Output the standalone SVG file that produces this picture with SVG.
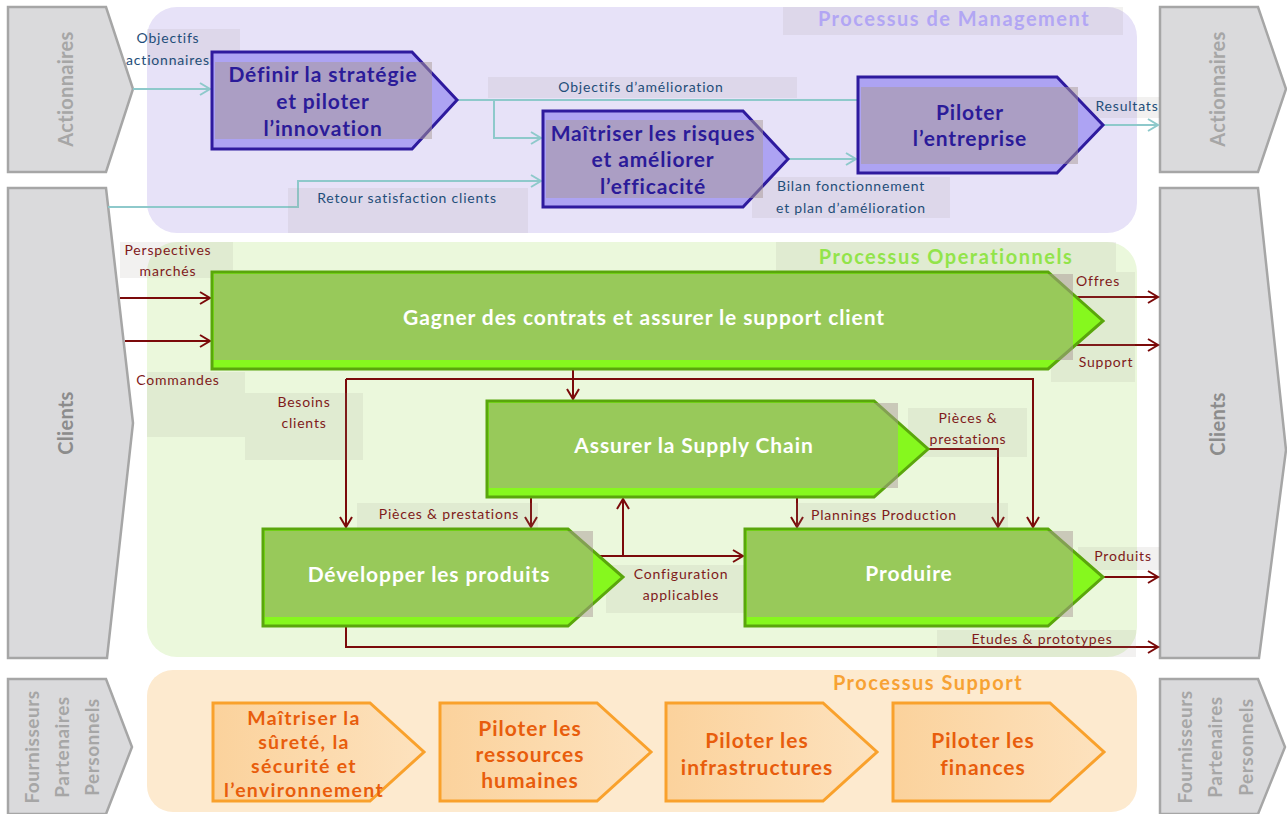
<svg xmlns="http://www.w3.org/2000/svg" width="1287" height="814" viewBox="0 0 1287 814">
<defs>
<style>
text{font-family:Lato,"Open Sans","Liberation Sans",sans-serif}
.side{fill:#DADADC;stroke:#A6A6A6;stroke-width:2.5}
.sidet{fill:#A6A6A6;font-weight:bold;font-size:20px;text-anchor:middle;letter-spacing:0.3px}
.sidet2{fill:#A6A6A6;font-weight:bold;font-size:19px;text-anchor:middle;letter-spacing:0.5px}
.pnode{fill:#ADA3F3;stroke:#2E1A9E;stroke-width:3}
.gnode{fill:#86F81E;stroke:#5AA60C;stroke-width:3}
.onode{fill:url(#og);stroke:#F9A12C;stroke-width:3}
.ov{fill:#AA9A96;opacity:.5}
.lb{fill:#9A8F88;opacity:.13}
.pt{fill:#2B1B99;font-weight:bold;font-size:21px;text-anchor:middle;letter-spacing:0.85px}
.gt{fill:#FFFFFF;font-weight:bold;font-size:21px;text-anchor:middle;letter-spacing:0.9px}
.ot{fill:#E85D0C;font-weight:bold;font-size:21px;text-anchor:middle;letter-spacing:1px}
.ot2{fill:#E85D0C;font-weight:bold;font-size:19.5px;text-anchor:middle;letter-spacing:1.3px}
.bl{fill:#1F4E79;font-size:14px;text-anchor:middle;letter-spacing:0.8px}
.rl{fill:#7F1A1A;font-size:14px;text-anchor:middle;letter-spacing:0.8px}
.tl{fill:none;stroke:#8EC9CB;stroke-width:2}
.rd{fill:none;stroke:#7B0A0A;stroke-width:2}
.title{font-weight:bold;font-size:20px;text-anchor:middle;letter-spacing:1.5px}
</style>
<linearGradient id="og" x1="0" y1="0" x2="1" y2="0">
<stop offset="0" stop-color="#FBD29C"/>
<stop offset="1" stop-color="#FDE2BE"/>
</linearGradient>
<marker id="at" markerUnits="userSpaceOnUse" markerWidth="14" markerHeight="14" refX="11" refY="7" orient="auto">
<path d="M1,1 L11,7 L1,13" fill="none" stroke="#8EC9CB" stroke-width="2"/>
</marker>
<marker id="ar" markerUnits="userSpaceOnUse" markerWidth="14" markerHeight="14" refX="11" refY="7" orient="auto">
<path d="M1,1 L11,7 L1,13" fill="none" stroke="#7B0A0A" stroke-width="2"/>
</marker>
</defs>

<g id="panels">
<rect x="147" y="7" width="990" height="226" rx="30" fill="#E7E2F8"/>
<rect x="147" y="242" width="990" height="415" rx="30" fill="#EBF8DC"/>
<rect x="147" y="670" width="990" height="142" rx="26" fill="#FDEACF"/>
</g>

<g id="side-left">
<polygon class="side" points="8,7 106,7 133,89 106,172 8,172"/>
<text class="sidet" transform="translate(73,89) rotate(-90)">Actionnaires</text>
<polygon class="side" points="8,188 106,188 133,423 107,658 8,658"/>
<text class="sidet" style="fill:#8C8C8C" transform="translate(73,423) rotate(-90)">Clients</text>
<polygon class="side" points="8,679 106,679 132,747 106,814 8,814"/>
<text class="sidet2" transform="translate(39,747) rotate(-90)">Fournisseurs</text>
<text class="sidet2" transform="translate(69,747) rotate(-90)">Partenaires</text>
<text class="sidet2" transform="translate(99,747) rotate(-90)">Personnels</text>
</g>

<g id="side-right">
<polygon class="side" points="1160,7 1258,7 1286,89 1258,172 1160,172"/>
<text class="sidet" transform="translate(1225,89) rotate(-90)">Actionnaires</text>
<polygon class="side" points="1160,188 1258,188 1286,450 1259,658 1160,658"/>
<text class="sidet" style="fill:#8C8C8C" transform="translate(1225,424) rotate(-90)">Clients</text>
<polygon class="side" points="1160,679 1258,679 1285,747 1258,814 1160,814"/>
<text class="sidet2" transform="translate(1192,747) rotate(-90)">Fournisseurs</text>
<text class="sidet2" transform="translate(1222,747) rotate(-90)">Partenaires</text>
<text class="sidet2" transform="translate(1253,747) rotate(-90)">Personnels</text>
</g>

<g id="connectors">
<path class="tl" d="M133,89 H210" marker-end="url(#at)"/>
<path class="tl" d="M457,100 H858 M494,100 V138 H541" marker-end="url(#at)"/>
<path class="tl" d="M108,207 H298 V181 H541" marker-end="url(#at)"/>
<path class="tl" d="M788,159 H856" marker-end="url(#at)"/>
<path class="tl" d="M1103,125 H1158" marker-end="url(#at)"/>

<path class="rd" d="M120,298 H210" marker-end="url(#ar)"/>
<path class="rd" d="M125,341 H210" marker-end="url(#ar)"/>
<path class="rd" d="M1075,297 H1158" marker-end="url(#ar)"/>
<path class="rd" d="M1075,345 H1158" marker-end="url(#ar)"/>
<path class="rd" d="M573,370 V399" marker-end="url(#ar)"/>
<path class="rd" d="M346,379 H1033 V527" marker-end="url(#ar)"/>
<path class="rd" d="M346,379 V527" marker-end="url(#ar)"/>
<path class="rd" d="M531,498 V527" marker-end="url(#ar)"/>
<path class="rd" d="M797,498 V527" marker-end="url(#ar)"/>
<path class="rd" d="M928,449 H998 V527" marker-end="url(#ar)"/>
<path class="rd" d="M599,556 H743" marker-end="url(#ar)"/>
<path class="rd" d="M623,556 V499" marker-end="url(#ar)"/>
<path class="rd" d="M1103,577 H1158" marker-end="url(#ar)"/>
<path class="rd" d="M346,627 V647 H1158" marker-end="url(#ar)"/>
</g>

<g id="label-bgs">
<rect class="lb" x="147" y="29" width="93" height="36"/>
<rect class="lb" x="488" y="77" width="309" height="21"/>
<rect class="lb" x="288" y="188" width="240" height="45"/>
<rect class="lb" x="752" y="177" width="198" height="41"/>
<rect class="lb" x="1078" y="97" width="82" height="21"/>
<rect class="lb" x="783" y="7" width="340" height="28"/>
<rect class="lb" x="120" y="242" width="113" height="36"/>
<rect class="lb" x="147" y="372" width="98" height="65"/>
<rect class="lb" x="245" y="393" width="118" height="67"/>
<rect class="lb" x="776" y="242" width="340" height="30"/>
<rect class="lb" x="1051" y="272" width="84" height="110"/>
<rect class="lb" x="357" y="503" width="181" height="26"/>
<rect class="lb" x="606" y="565" width="139" height="48"/>
<rect class="lb" x="796" y="503" width="212" height="26"/>
<rect class="lb" x="908" y="408" width="119" height="49"/>
<rect class="lb" x="1078" y="547" width="82" height="23"/>
<rect class="lb" x="937" y="630" width="199" height="27"/>
</g>

<g id="n-definir">
<polygon class="pnode" points="212,52 412,52 457,100 412,149 212,149"/>
<rect class="ov" x="215" y="62" width="217" height="77"/>
<text class="pt" x="323" y="82">Définir la stratégie</text>
<text class="pt" x="323" y="109">et piloter</text>
<text class="pt" x="323" y="136">l’innovation</text>
</g>
<g id="n-maitriser">
<polygon class="pnode" points="543,111 743,111 788,159 743,207 543,207"/>
<rect class="ov" x="546" y="120" width="217" height="78"/>
<text class="pt" x="653" y="141">Maîtriser les risques</text>
<text class="pt" x="653" y="167">et améliorer</text>
<text class="pt" x="653" y="194">l’efficacité</text>
</g>
<g id="n-piloter">
<polygon class="pnode" points="858,77 1057,77 1103,125 1057,173 858,173"/>
<rect class="ov" x="861" y="87" width="217" height="77"/>
<text class="pt" x="970" y="120">Piloter</text>
<text class="pt" x="970" y="146">l’entreprise</text>
</g>

<g id="n-gagner">
<polygon class="gnode" points="212,272 1048,272 1103,321 1048,369 212,369"/>
<rect class="ov" x="214" y="274" width="859" height="86"/>
<text class="gt" x="644" y="325">Gagner des contrats et assurer le support client</text>
</g>
<g id="n-supply">
<polygon class="gnode" points="487,401 874,401 928,449 874,497 487,497"/>
<rect class="ov" x="489" y="403" width="409" height="85"/>
<text class="gt" x="694" y="453">Assurer la Supply Chain</text>
</g>
<g id="n-developper">
<polygon class="gnode" points="263,529 568,529 623,577 568,626 263,626"/>
<rect class="ov" x="265" y="531" width="328" height="86"/>
<text class="gt" x="429" y="582">Développer les produits</text>
</g>
<g id="n-produire">
<polygon class="gnode" points="745,529 1048,529 1103,577 1048,626 745,626"/>
<rect class="ov" x="747" y="531" width="326" height="86"/>
<text class="gt" x="909" y="581">Produire</text>
</g>

<g id="n-surete">
<polygon class="onode" points="213,703 370,703 424,752 370,801 213,801"/>
<text class="ot2" x="304" y="725">Maîtriser la</text>
<text class="ot2" x="304" y="749">sûreté, la</text>
<text class="ot2" x="304" y="773">sécurité et</text>
<text class="ot2" x="304" y="797">l’environnement</text>
</g>
<g id="n-rh">
<polygon class="onode" points="440,703 597,703 651,752 597,801 440,801"/>
<text class="ot" x="530" y="736">Piloter les</text>
<text class="ot" x="530" y="762">ressources</text>
<text class="ot" x="530" y="788">humaines</text>
</g>
<g id="n-infra">
<polygon class="onode" points="666,703 823,703 877,752 823,801 666,801"/>
<text class="ot" x="757" y="748">Piloter les</text>
<text class="ot" x="757" y="775">infrastructures</text>
</g>
<g id="n-finances">
<polygon class="onode" points="893,703 1050,703 1104,752 1050,801 893,801"/>
<text class="ot" x="983" y="748">Piloter les</text>
<text class="ot" x="983" y="775">finances</text>
</g>

<g id="labels">
<text class="title" x="954" y="26" fill="#B2A6F4">Processus de Management</text>
<text class="title" x="946" y="264" fill="#92E44A">Processus Operationnels</text>
<text class="title" x="928" y="690" fill="#F7A234">Processus Support</text>
<text class="bl" x="168" y="43">Objectifs</text>
<text class="bl" x="168" y="65">actionnaires</text>
<text class="bl" x="641" y="92">Objectifs d’amélioration</text>
<text class="bl" x="407" y="203">Retour satisfaction clients</text>
<text class="bl" x="851" y="191">Bilan fonctionnement</text>
<text class="bl" x="851" y="213">et plan d’amélioration</text>
<text class="bl" x="1127" y="111">Resultats</text>
<text class="rl" x="168" y="255">Perspectives</text>
<text class="rl" x="168" y="276">marchés</text>
<text class="rl" x="178" y="385">Commandes</text>
<text class="rl" x="304" y="407">Besoins</text>
<text class="rl" x="304" y="428">clients</text>
<text class="rl" x="1098" y="286">Offres</text>
<text class="rl" x="1106" y="367">Support</text>
<text class="rl" x="968" y="423">Pièces &amp;</text>
<text class="rl" x="968" y="444">prestations</text>
<text class="rl" x="449" y="519">Pièces &amp; prestations</text>
<text class="rl" x="884" y="520">Plannings Production</text>
<text class="rl" x="681" y="579">Configuration</text>
<text class="rl" x="681" y="600">applicables</text>
<text class="rl" x="1123" y="561">Produits</text>
<text class="rl" x="1042" y="644">Etudes &amp; prototypes</text>
</g>
</svg>
